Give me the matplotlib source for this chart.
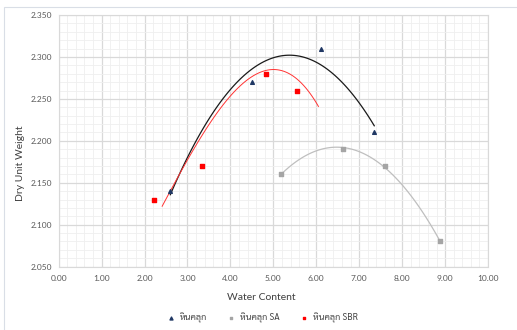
import numpy as np
import matplotlib
matplotlib.use("Agg")
import matplotlib.pyplot as plt
from matplotlib.ticker import MultipleLocator, FormatStrFormatter
from matplotlib.patches import Rectangle

# compaction test results (water content %, dry unit weight)
labels = ["หินคลุก", "หินคลุก SA", "หินคลุก SBR"]
wc_base = [2.6, 4.5, 6.1, 7.35]
dw_base = [2.14, 2.27, 2.31, 2.21]
wc_sa = [5.17, 6.63, 7.6, 8.88]
dw_sa = [2.16, 2.19, 2.17, 2.08]
wc_sbr = [2.21, 3.34, 4.84, 5.55]
dw_sbr = [2.13, 2.17, 2.28, 2.26]
# x-range covered by the fitted trendlines
trend_base = (2.6, 7.35)
trend_sa = (5.17, 8.88)
# the SBR trendline does not follow its points, so read it off the chart
sbr_curve_x = [2.41, 3.67, 4.99, 6.05]
sbr_curve_y = [2.122, 2.232, 2.285, 2.241]

plt.rcParams['font.family'] = ['Lato', 'DejaVu Sans']

fig = plt.figure(figsize=(5.17, 3.30), dpi=100)
ax = fig.add_axes([0.1135, 0.192, 0.8305, 0.7625])

# outer chart border
fig.patches.append(Rectangle((4 / 517, -0.1), 1.1, 1 - 7 / 330 + 0.1,
                             transform=fig.transFigure, fill=False,
                             edgecolor="#D9DEE6", linewidth=0.8))


def curve(x, y, deg, rng, color, lw):
    c = np.polyfit(x, y, deg)
    xs = np.linspace(rng[0], rng[1], 100)
    ax.plot(xs, np.polyval(c, xs), color=color, linewidth=lw, zorder=3)


curve(wc_base, dw_base, 2, trend_base, "#1A1A1A", 0.9)
curve(wc_sa, dw_sa, 2, trend_sa, "#BFBFBF", 0.9)
curve(sbr_curve_x, sbr_curve_y, 3, (sbr_curve_x[0], sbr_curve_x[-1]), "#FF3333", 0.7)

ax.scatter(wc_base, dw_base, marker="^", s=7, color="#203864", label=labels[0], zorder=4)
ax.scatter(wc_sa, dw_sa, marker="s", s=7, color="#A5A5A5", label=labels[1], zorder=4)
ax.scatter(wc_sbr, dw_sbr, marker="s", s=7, color="#FF0000", label=labels[2], zorder=4)

ax.set_xlim(0, 10)
ax.set_ylim(2.05, 2.35)
ax.xaxis.set_major_locator(MultipleLocator(1))
ax.xaxis.set_minor_locator(MultipleLocator(0.2))
ax.yaxis.set_major_locator(MultipleLocator(0.05))
ax.yaxis.set_minor_locator(MultipleLocator(0.01))
ax.xaxis.set_major_formatter(FormatStrFormatter("%.2f"))
ax.yaxis.set_major_formatter(FormatStrFormatter("%.3f"))
ax.grid(which="major", color="#D9D9D9", linewidth=0.9)
ax.grid(which="minor", color="#EFEFEF", linewidth=0.6)
ax.set_axisbelow(True)
ax.tick_params(which="both", length=0, labelsize=6, colors="#595959")
ax.tick_params(axis="x", pad=6)
ax.tick_params(axis="y", pad=5)
for s in ax.spines.values():
    s.set_color("#D9D9D9")
    s.set_linewidth(0.8)

# axis titles sit off-centre in the original
fig.text(261 / 517, 1 - 297 / 330, "Water Content", fontsize=7.5, color="#404040",
         ha="center", va="center")
fig.text(21 / 517, 1 - 163 / 330, "Dry Unit Weight", fontsize=7.5, color="#404040",
         ha="center", va="center", rotation=90)

fig.legend(loc="center", bbox_to_anchor=(0.503, 0.038), ncol=3, frameon=False,
           prop={"family": ["Sarabun", "Lato"], "size": 6.5},
           handletextpad=0.0, columnspacing=1.7, markerscale=0.8,
           labelcolor="#404040")

fig.savefig("out.png", dpi=100)
